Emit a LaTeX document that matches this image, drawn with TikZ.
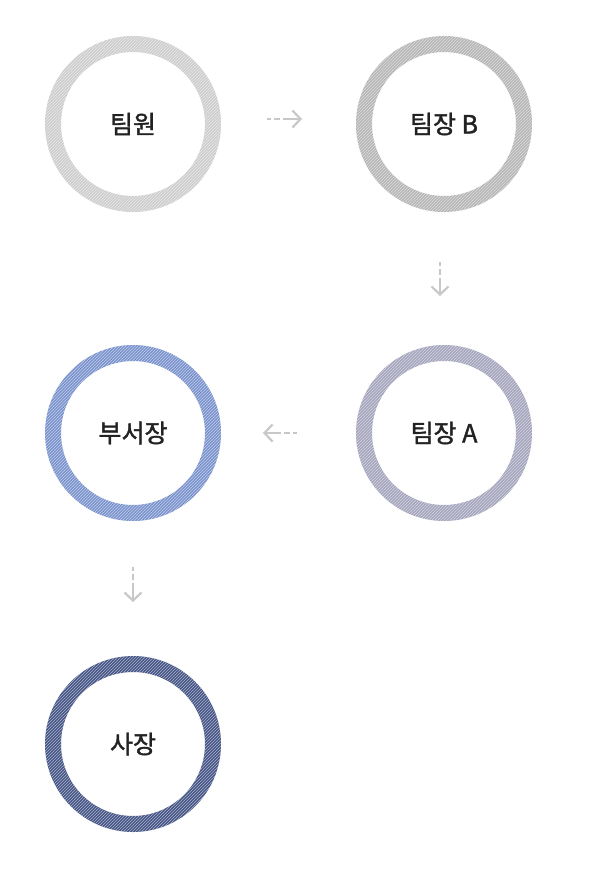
\documentclass[tikz,border=0pt]{standalone}
\usepackage{fontspec}
\setmainfont{Noto Sans CJK KR}[FakeBold=1.5]
\usetikzlibrary{arrows.meta,patterns}
\definecolor{cone}{HTML}{CDCDCD}
\definecolor{ctwo}{HTML}{B6B6B6}
\definecolor{cthree}{HTML}{A4A4BD}
\definecolor{cfour}{HTML}{7A92CD}
\definecolor{cfive}{HTML}{465687}
\definecolor{txt}{HTML}{222222}
\definecolor{arr}{HTML}{C8C8C8}
\tikzset{
  ringnode/.style={circle, draw=#1, line width=16pt, minimum size=160pt, inner sep=0pt, outer sep=0pt,
    text=txt, font=\fontsize{25}{29}\selectfont},
  flowarrow/.style={draw=arr, line width=2.2pt, dash pattern=on 4pt off 3pt on 6pt off 3pt on 60pt,
    -{Straight Barb[length=8pt,width=17pt,line width=2.2pt]}}
}
\begin{document}
\begin{tikzpicture}[x=1pt,y=-1pt]
\useasboundingbox (0,0) rectangle (600,880);
\node[ringnode=cone]   (a) at (133,124) {팀원};
\node[ringnode=ctwo]   (b) at (444,124) {팀장 B};
\node[ringnode=cthree] (c) at (444,433) {팀장 A};
\node[ringnode=cfour]  (d) at (133,433) {부서장};
\node[ringnode=cfive]  (e) at (133,744) {사장};
\foreach \n in {a,b,c,d,e}
  \path[pattern=north east lines, pattern color=white, even odd rule, opacity=0.55]
    (\n) circle (88) (\n) circle (72);
\coordinate (a1) at (267,119); \coordinate (a2) at (302,119);
\coordinate (b1) at (440,262); \coordinate (b2) at (440,296);
\coordinate (c1) at (297,433); \coordinate (c2) at (263,433);
\coordinate (d1) at (133,567); \coordinate (d2) at (133,602);
\draw[flowarrow] (a1) -- (a2);
\draw[flowarrow] (b1) -- (b2);
\draw[flowarrow] (c1) -- (c2);
\draw[flowarrow] (d1) -- (d2);
\end{tikzpicture}
\end{document}
